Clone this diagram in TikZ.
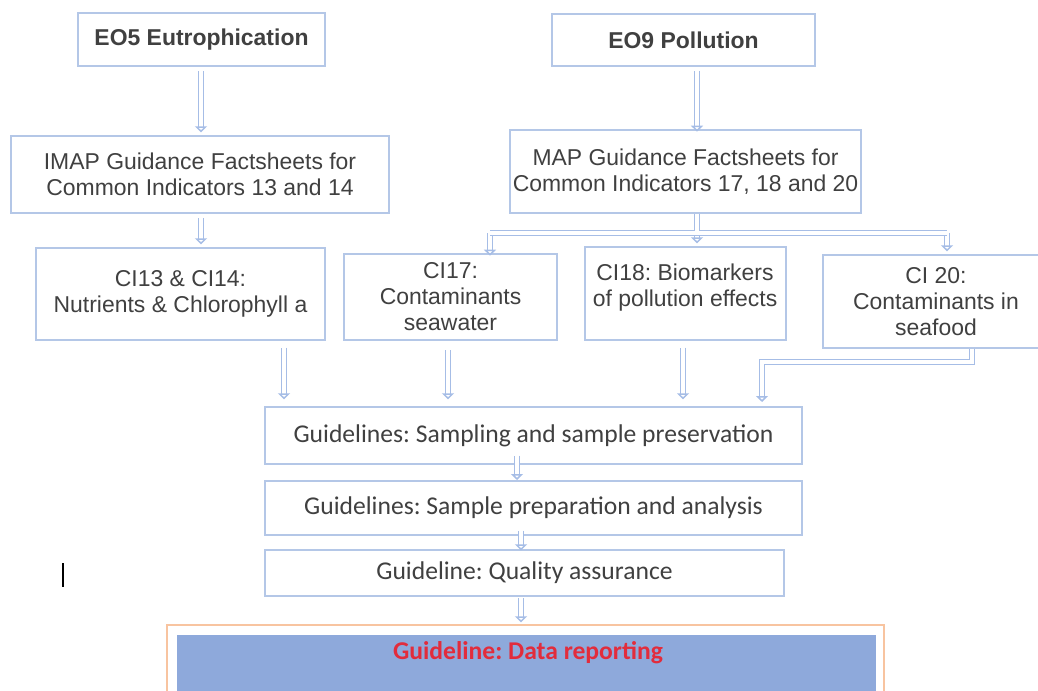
\documentclass[tikz,border=0pt]{standalone}
\usepackage{fontspec}
\setmainfont{Liberation Sans}
\newfontfamily\calfont{Carlito}
\usetikzlibrary{arrows.meta}
\frenchspacing

\definecolor{boxblue}{RGB}{180,199,231}
\definecolor{flowblue}{RGB}{166,189,230}
\definecolor{txtgray}{RGB}{64,64,64}
\definecolor{repfill}{RGB}{142,169,219}
\definecolor{repred}{RGB}{226,44,60}
\definecolor{reporange}{RGB}{248,196,160}

\tikzset{
  box/.style={draw=boxblue, line width=1.5pt, fill=white, text=txtgray, align=center,
    inner sep=0pt, font=\fontsize{17.2}{19.5}\selectfont},
  guide/.style={box, font=\calfont\fontsize{19.2}{22}\selectfont},
  bus/.style={draw=flowblue, line width=1.25pt, double=white, double distance=2.4pt},
  flow/.style={bus, -{Triangle[open, length=4.5pt, width=9pt]}, shorten <=3pt, shorten >=2pt},
}

\begin{document}
\begin{tikzpicture}[x=0.75pt,y=0.75pt,yscale=-1,xscale=1]
\useasboundingbox (0,0) rectangle (1038,691);

% objectives
\node[box, minimum width=185.25pt, minimum height=39.75pt, font=\bfseries\fontsize{17.2}{19.5}\selectfont] (eo5) at (201.5,39.5) {EO5 Eutrophication};
\node[box, minimum width=197.25pt, minimum height=39pt, font=\bfseries\fontsize{17.2}{19.5}\selectfont] (eo9) at (683.5,40) {EO9 Pollution};

% factsheets
\node[box, minimum width=283.5pt, minimum height=57.75pt] (imap) at (200,174.5) {IMAP Guidance Factsheets for\\Common Indicators 13 and 14};
\node[box, minimum width=263.25pt, minimum height=62.25pt] (map) at (685.5,171.5) {MAP Guidance Factsheets for\\Common Indicators 17, 18 and 20};

% common indicators
\node[box, minimum width=216.75pt, minimum height=69pt] (ci13) at (180.5,294) {CI13 \& CI14:\\Nutrients \& Chlorophyll a};
\node[box, minimum width=159.75pt, minimum height=64.5pt] (ci17) at (450.5,297) {CI17:\\Contaminants\\seawater};
\node[box, minimum width=150.75pt, minimum height=69.75pt] (ci18) at (685,293.5) {CI18: Biomarkers\\of pollution effects\\[-7pt]};
\node[box, minimum width=169.5pt, minimum height=69.75pt] (ci20) at (936,301.5) {CI 20:\\Contaminants in\\seafood};

% guidelines
\node[guide, minimum width=402.75pt, minimum height=42.75pt] (samp) at (533.5,435.5) {Guidelines: Sampling and sample preservation};
\node[guide, minimum width=402.75pt, minimum height=40.5pt] (prep) at (533.5,508) {Guidelines: Sample preparation and analysis};
\node[guide, minimum width=389.25pt, minimum height=34.5pt] (qa) at (524.5,573) {Guideline: Quality assurance};

% data reporting
\draw[reporange, line width=1.5pt] (167,625) rectangle (884,710);
\fill[repfill] (177,635) rectangle (876,710);
\node[text=repred, font=\calfont\bfseries\fontsize{19.2}{22}\selectfont] (rep) at (528,653) {Guideline: Data reporting};
\coordinate (repTop) at (521,625);

% columns
\coordinate (xEut) at (201,0);
\coordinate (xPol) at (697,0);
\coordinate (x13) at (284,0);
\coordinate (x17) at (448,0);
\coordinate (x18) at (683,0);
\coordinate (x20) at (972,0);
\coordinate (ret) at (762,362);
\coordinate (xS) at (517,0);
\coordinate (xQ) at (521,0);
\coordinate (busL) at (490,233);
\coordinate (busM) at (697,233);
\coordinate (busR) at (947,233);

\draw[flow] (eo5.south -| xEut) -- (imap.north -| xEut);
\draw[flow] (eo9.south -| xPol) -- ([yshift=4pt]map.north -| xPol);
\draw[flow] (imap.south -| xEut) -- (ci13.north -| xEut);

\draw[flow, shorten <=0pt] (busL) -- ([yshift=4pt]ci17.north -| busL);
\draw[flow, shorten <=0pt] (busM) -- (ci18.north -| busM);
\draw[flow, shorten <=0pt] (busR) -- (ci20.north -| busR);
\draw[bus] (busL) -- (busR) (map.south -| busM) -- (busM);

\draw[flow, shorten <=5pt, shorten >=5pt] (ci13.south -| x13) -- (samp.north -| x13);
\draw[flow, shorten <=7pt, shorten >=5pt] (ci17.south -| x17) -- (samp.north -| x17);
\draw[flow, shorten <=5pt, shorten >=5pt] (ci18.south -| x18) -- (samp.north -| x18);
\draw[flow, shorten <=0pt, shorten >=3pt] (ci20.south -| x20) |- (ret) -- (samp.north -| ret);

\draw[flow, shorten <=-7pt, shorten >=0pt] (samp.south -| xS) -- (prep.north -| xS);
\draw[flow, shorten <=-4pt, shorten >=-1pt] (prep.south -| xQ) -- (qa.north -| xQ);
\draw[flow, shorten <=1pt] (qa.south -| xQ) -- (repTop);

% text cursor
\draw[black, line width=1pt] (63,563) -- (63,587);
\end{tikzpicture}
\end{document}
